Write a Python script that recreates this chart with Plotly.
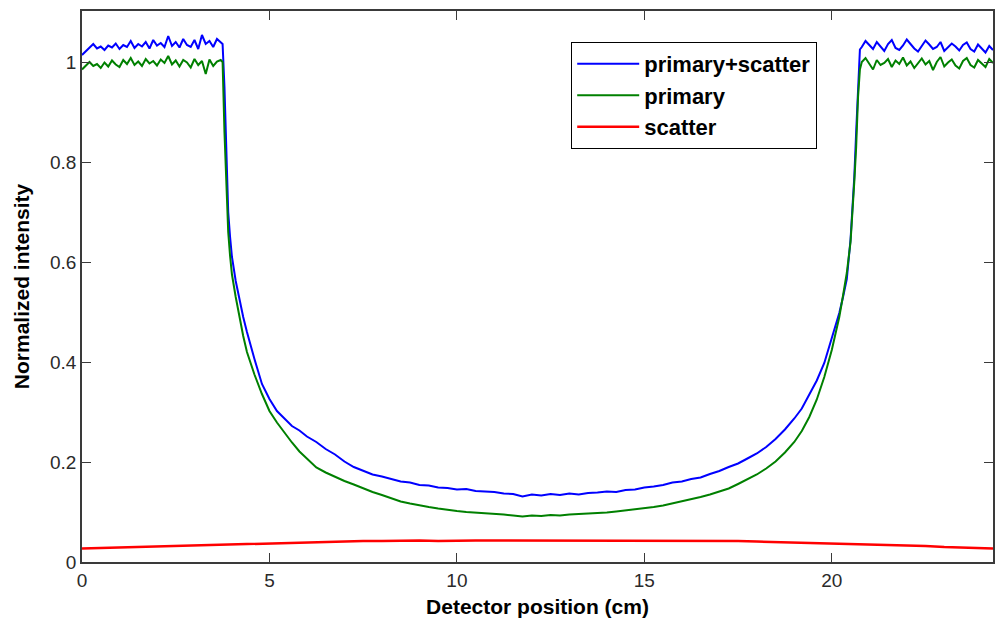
import plotly.graph_objects as go

# ---- data ----
x_main = [0.0, 0.1, 0.2, 0.3, 0.4, 0.5, 0.6, 0.7, 0.8, 0.9, 1.0, 1.1, 1.2, 1.3, 1.4, 1.5, 1.6, 1.7, 1.8, 1.9,
          2.0, 2.1, 2.2, 2.3, 2.4, 2.5, 2.6, 2.7, 2.8, 2.9, 3.0, 3.1, 3.2, 3.3, 3.4, 3.5, 3.6, 3.7,
          3.75, 3.8, 3.85, 3.9, 3.95, 4.0, 4.1, 4.2, 4.3, 4.4, 4.5, 4.6, 4.8, 5.0, 5.2, 5.4, 5.6, 5.8,
          6.0, 6.25, 6.5, 6.75, 7.0, 7.25, 7.5, 7.75, 8.0, 8.25, 8.5, 8.75, 9.0, 9.25, 9.5, 9.75,
          10.0, 10.25, 10.5, 10.75, 11.0, 11.25, 11.5, 11.75, 12.0, 12.25, 12.5, 12.75, 13.0, 13.25,
          13.5, 13.75, 14.0, 14.25, 14.5, 14.75, 15.0, 15.25, 15.5, 15.75, 16.0, 16.25, 16.5, 16.75,
          17.0, 17.25, 17.5, 17.75, 18.0, 18.25, 18.5, 18.75, 19.0, 19.2, 19.4, 19.6, 19.8, 20.0,
          20.1, 20.2, 20.3, 20.4, 20.5, 20.55, 20.6, 20.65, 20.7, 20.75,
          20.8, 20.9, 21.0, 21.1, 21.2, 21.3, 21.4, 21.5, 21.6, 21.7, 21.8, 21.9, 22.0, 22.1, 22.2,
          22.3, 22.4, 22.5, 22.6, 22.7, 22.8, 22.9, 23.0, 23.1, 23.2, 23.3, 23.4, 23.5, 23.6, 23.7,
          23.8, 23.9, 24.0, 24.1, 24.2, 24.3]

primary_scatter = [1.014, 1.022, 1.030, 1.036, 1.027, 1.031, 1.024, 1.033, 1.029, 1.037, 1.026, 1.034, 1.030,
                   1.042, 1.028, 1.036, 1.031, 1.040, 1.027, 1.044, 1.033, 1.038, 1.030, 1.052, 1.032, 1.040,
                   1.029, 1.046, 1.034, 1.030, 1.044, 1.026, 1.054, 1.036, 1.042, 1.030, 1.046, 1.038,
                   1.036, 0.95, 0.80, 0.70, 0.65, 0.61, 0.562, 0.524, 0.49, 0.46, 0.432, 0.406, 0.356, 0.326,
                   0.302, 0.287, 0.272, 0.263, 0.251, 0.240, 0.226, 0.215, 0.201, 0.190, 0.182, 0.175, 0.171,
                   0.166, 0.161, 0.159, 0.154, 0.153, 0.149, 0.148, 0.145, 0.146, 0.142, 0.141, 0.140, 0.137,
                   0.136, 0.131, 0.135, 0.133, 0.136, 0.134, 0.137, 0.135, 0.138, 0.139, 0.141, 0.140, 0.144,
                   0.145, 0.149, 0.151, 0.154, 0.159, 0.161, 0.166, 0.169, 0.176, 0.182, 0.190, 0.197, 0.207,
                   0.217, 0.230, 0.246, 0.265, 0.287, 0.307, 0.334, 0.363, 0.398, 0.446, 0.472, 0.498, 0.530,
                   0.566, 0.645, 0.70, 0.77, 0.86, 0.95, 1.025,
                   1.030, 1.042, 1.034, 1.026, 1.040, 1.031, 1.022, 1.036, 1.044, 1.028, 1.024, 1.033, 1.045,
                   1.036, 1.027, 1.021, 1.032, 1.043, 1.035, 1.026, 1.030, 1.040, 1.022, 1.029, 1.037, 1.031,
                   1.023, 1.034, 1.039, 1.026, 1.021, 1.035, 1.027, 1.019, 1.032, 1.024]

primary = [0.985, 0.993, 1.000, 0.992, 0.996, 0.988, 0.999, 0.991, 1.003, 0.995, 0.990, 1.004, 0.996, 1.008,
           0.994, 1.001, 0.992, 1.006, 0.997, 1.002, 0.993, 1.005, 0.998, 1.012, 0.995, 1.003, 0.991, 1.004,
           0.999, 0.989, 1.006, 0.994, 1.002, 0.976, 1.005, 0.992, 1.001, 1.004,
           1.0, 0.86, 0.74, 0.66, 0.612, 0.575, 0.53, 0.49, 0.452, 0.42, 0.396, 0.375, 0.336, 0.302, 0.279,
           0.258, 0.239, 0.221, 0.206, 0.189, 0.179, 0.170, 0.162, 0.155, 0.147, 0.140, 0.134, 0.127, 0.121,
           0.117, 0.113, 0.110, 0.107, 0.104, 0.102, 0.100, 0.099, 0.097, 0.096, 0.095, 0.093, 0.091, 0.093,
           0.092, 0.094, 0.093, 0.095, 0.096, 0.096, 0.098, 0.099, 0.101, 0.103, 0.105, 0.107, 0.110, 0.113,
           0.117, 0.121, 0.125, 0.130, 0.135, 0.141, 0.147, 0.156, 0.165, 0.175, 0.187, 0.201, 0.219, 0.240,
           0.262, 0.290, 0.325, 0.370, 0.424, 0.455, 0.490, 0.533, 0.578, 0.640, 0.69, 0.76, 0.83, 0.93, 0.985,
           1.000, 1.008, 0.996, 0.985, 1.004, 0.994, 0.998, 1.006, 0.990, 1.003, 0.996, 1.009, 0.993, 1.001,
           0.988, 0.997, 1.007, 0.995, 1.002, 0.984, 1.000, 1.010, 0.991, 0.999, 1.005, 0.993, 0.987, 1.002,
           1.008, 0.994, 0.989, 1.004, 0.996, 0.990, 1.006, 0.998]

x_scatter = [0.0, 0.5, 1.0, 1.5, 2.0, 2.5, 3.0, 3.5, 4.0, 4.5, 5.0, 5.5, 6.0, 6.5, 7.0, 7.5, 8.0, 8.5,
             9.0, 9.5, 10.0, 10.5, 11.0, 11.5, 12.0, 12.5, 13.0, 13.5, 14.0, 14.5, 15.0, 15.5, 16.0,
             16.5, 17.0, 17.5, 18.0, 18.5, 19.0, 19.5, 20.0, 20.5, 21.0, 21.5, 22.0, 22.5, 23.0, 23.5,
             24.0, 24.3]
scatter = [0.027, 0.028, 0.029, 0.030, 0.031, 0.032, 0.033, 0.035, 0.036, 0.037, 0.038, 0.039, 0.040,
           0.041, 0.041, 0.042, 0.042, 0.043, 0.043, 0.042, 0.043, 0.043, 0.043, 0.043, 0.043, 0.043,
           0.043, 0.043, 0.043, 0.042, 0.043, 0.043, 0.043, 0.043, 0.042, 0.042, 0.041, 0.040, 0.040,
           0.039, 0.038, 0.037, 0.036, 0.035, 0.033, 0.032, 0.030, 0.029, 0.028, 0.027]

x_ticks = [0, 5, 10, 15, 20]
y_ticks = [0, 0.2, 0.4, 0.6, 0.8, 1]
y_tick_labels = ["0", "0.2", "0.4", "0.6", "0.8", "1"]

FONT = "Liberation Sans, Arial, sans-serif"
AX = "#3a3a3a"

fig = go.Figure()
fig.add_trace(go.Scatter(x=x_main, y=primary_scatter, mode="lines", name="primary+scatter",
                         line=dict(color="#0000ff", width=2), legendgroup="a"))
fig.add_trace(go.Scatter(x=x_main, y=primary, mode="lines", name="primary",
                         line=dict(color="#008000", width=2), legendgroup="b"))
fig.add_trace(go.Scatter(x=x_scatter, y=scatter, mode="lines", name="scatter",
                         line=dict(color="#ff0000", width=2.5), legendgroup="c"))

axis_common = dict(showline=True, linecolor=AX, linewidth=1.5, mirror="ticks", ticks="inside",
                   ticklen=9, tickcolor=AX, tickwidth=1.2, showgrid=False, zeroline=False,
                   tickfont=dict(family=FONT, size=19, color="#2a2a2a"))

fig.update_xaxes(range=[0, 24.3], tickvals=x_ticks, ticktext=[str(v) for v in x_ticks],
                 title=dict(text="Detector position (cm)", standoff=10,
                            font=dict(family=FONT, size=21, color="#000", weight="bold")),
                 **axis_common)
fig.update_yaxes(range=[0, 1.102], tickvals=y_ticks, ticktext=y_tick_labels,
                 title=dict(text="Normalized intensity", standoff=15,
                            font=dict(family=FONT, size=21, color="#000", weight="bold")),
                 **axis_common)

fig.update_layout(
    width=995, height=620,
    margin=dict(l=82, r=0, t=11, b=58),
    paper_bgcolor="white", plot_bgcolor="white",
    showlegend=True,
    legend=dict(x=0.537, y=0.944, xanchor="left", yanchor="top",
                bgcolor="white", bordercolor="#000", borderwidth=1,
                font=dict(family=FONT, size=22, color="#000", weight="bold"),
                itemwidth=62, tracegroupgap=0),
)

fig.write_html("out.html", config={"displayModeBar": False},
               post_script="document.body.style.margin='0';document.body.style.overflow='hidden';")
